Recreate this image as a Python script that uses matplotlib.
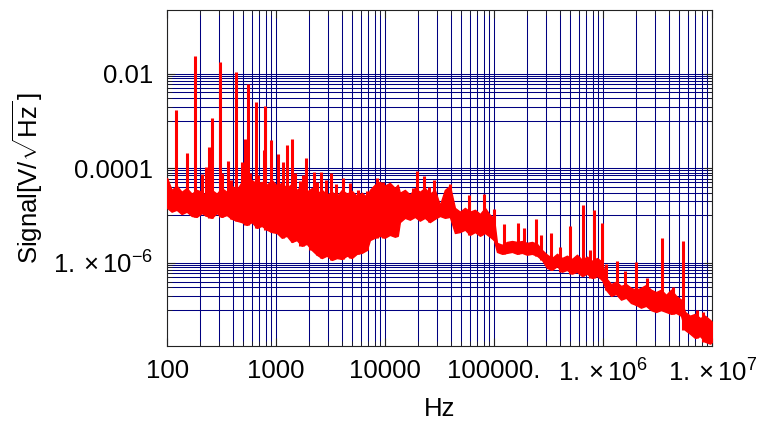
import numpy as np
import matplotlib.pyplot as plt
from matplotlib.ticker import FixedLocator, NullFormatter

plt.rcParams['font.family'] = ['Liberation Sans', 'DejaVu Sans']
plt.rcParams['mathtext.fontset'] = 'custom'
plt.rcParams['mathtext.rm'] = 'Liberation Sans'
plt.rcParams['mathtext.it'] = 'Liberation Sans:italic'

# noise floor: log10(f / Hz) with upper and lower edge, log10(V/sqrt(Hz))
band_lf = [2.000, 2.041, 2.087, 2.133, 2.179, 2.225, 2.271, 2.317, 2.363, 2.409,
           2.455, 2.500, 2.546, 2.592, 2.638, 2.684, 2.730, 2.776, 2.822, 2.868,
           2.914, 2.960, 3.006, 3.051, 3.097, 3.143, 3.189, 3.235, 3.281, 3.327,
           3.373, 3.419, 3.465, 3.511, 3.557, 3.603, 3.649, 3.694, 3.740, 3.786,
           3.832, 3.860, 3.905, 3.951, 3.997, 4.043, 4.089, 4.116, 4.135, 4.181,
           4.227, 4.273, 4.318, 4.364, 4.410, 4.456, 4.502, 4.548, 4.594, 4.640,
           4.686, 4.732, 4.778, 4.824, 4.870, 4.916, 4.961, 4.998, 5.026, 5.072,
           5.118, 5.164, 5.210, 5.256, 5.301, 5.347, 5.393, 5.439, 5.485, 5.531,
           5.577, 5.623, 5.668, 5.714, 5.760, 5.806, 5.852, 5.898, 5.944, 5.990,
           6.026, 6.072, 6.118, 6.164, 6.210, 6.255, 6.301, 6.347, 6.393, 6.439,
           6.485, 6.531, 6.577, 6.623, 6.669, 6.715, 6.751, 6.797, 6.843, 6.889,
           6.935, 6.981, 7.000]
band_hi = [-4.21, -4.46, -4.37, -4.50, -4.42, -4.54, -4.46, -4.50, -4.59, -4.46,
           -4.54, -4.42, -4.50, -4.37, -4.46, -4.29, -4.37, -4.25, -4.33, -4.29,
           -4.35, -4.25, -4.37, -4.31, -4.42, -4.33, -4.46, -4.37, -4.50, -4.42,
           -4.54, -4.46, -4.56, -4.50, -4.59, -4.46, -4.54, -4.48, -4.59, -4.52,
           -4.61, -4.46, -4.35, -4.29, -4.37, -4.31, -4.42, -4.35, -4.52, -4.46,
           -4.56, -4.42, -4.50, -4.42, -4.54, -4.46, -4.78, -4.46, -4.37, -4.84,
           -4.92, -4.84, -4.92, -4.88, -4.97, -4.84, -4.99, -5.05, -5.58, -5.62,
           -5.56, -5.54, -5.56, -5.54, -5.58, -5.56, -5.60, -5.73, -5.83, -5.90,
           -5.81, -5.90, -5.85, -5.92, -5.83, -5.94, -5.87, -5.96, -5.90, -5.98,
           -6.32, -6.45, -6.40, -6.49, -6.45, -6.53, -6.57, -6.53, -6.47, -6.57,
           -6.62, -6.57, -6.68, -6.57, -6.70, -6.78, -7.04, -7.12, -7.08, -7.17,
           -7.12, -7.21, -7.25]
band_lo = [-4.84, -4.92, -4.88, -4.97, -4.92, -5.01, -5.03, -4.95, -5.01, -5.05,
           -4.95, -5.03, -4.99, -5.07, -5.11, -5.14, -5.20, -5.14, -5.26, -5.22,
           -5.30, -5.35, -5.37, -5.47, -5.43, -5.56, -5.52, -5.64, -5.60, -5.73,
           -5.83, -5.90, -5.85, -5.94, -5.90, -5.92, -5.85, -5.90, -5.81, -5.79,
           -5.73, -5.52, -5.47, -5.43, -5.47, -5.41, -5.45, -5.43, -5.14, -5.05,
           -5.09, -5.03, -5.11, -5.05, -5.14, -5.07, -5.01, -5.05, -5.03, -5.37,
           -5.35, -5.30, -5.41, -5.35, -5.43, -5.37, -5.45, -5.52, -5.77, -5.81,
           -5.79, -5.77, -5.81, -5.79, -5.83, -5.81, -5.85, -5.94, -6.11, -6.15,
           -6.07, -6.19, -6.15, -6.23, -6.19, -6.28, -6.23, -6.32, -6.28, -6.36,
           -6.57, -6.70, -6.66, -6.78, -6.74, -6.85, -6.89, -6.95, -6.91, -7.00,
           -7.04, -7.00, -7.04, -7.08, -7.06, -7.12, -7.42, -7.50, -7.59, -7.55,
           -7.67, -7.71, -7.67]

# narrow lines standing out of the floor
peak_lf = [2.083, 2.182, 2.259, 2.323, 2.360, 2.386, 2.411, 2.485, 2.500, 2.558,
           2.583, 2.632, 2.684, 2.714, 2.739, 2.758, 2.819, 2.837, 2.886, 2.898,
           2.957, 3.015, 3.062, 3.102, 3.146, 3.171, 3.217, 3.247, 3.272, 3.309,
           3.348, 3.379, 3.416, 3.462, 3.506, 3.547, 3.614, 3.676, 3.752, 3.829,
           3.924, 3.982, 4.059, 4.254, 4.294, 4.360, 4.404, 4.447, 4.594, 4.767,
           4.908, 4.996, 5.093, 5.217, 5.274, 5.382, 5.434, 5.522, 5.604, 5.696,
           5.814, 5.880, 5.918, 5.988, 6.027, 6.126, 6.201, 6.300, 6.403, 6.541,
           6.642, 6.734, 6.862, 6.917]
peak_ls = [-2.78, -3.67, -1.63, -4.12, -3.97, -3.56, -2.94, -1.75, -4.10, -3.84,
           -4.25, -1.96, -3.86, -3.39, -2.22, -4.10, -2.60, -4.14, -3.61, -2.68,
           -3.40, -3.71, -3.88, -3.51, -3.38, -4.10, -4.28, -4.14, -3.79, -4.47,
           -4.08, -4.30, -4.09, -4.26, -4.11, -4.33, -4.21, -4.32, -4.46, -4.49,
           -4.20, -4.30, -4.42, -4.42, -4.07, -4.17, -4.39, -4.25, -4.33, -4.56,
           -4.55, -4.87, -5.18, -5.16, -5.27, -5.07, -5.41, -5.37, -5.66, -5.22,
           -4.78, -5.73, -4.88, -5.16, -6.02, -5.97, -6.17, -5.99, -6.32, -5.48,
           -6.51, -5.55, -7.00, -7.04]

x_ticks = [1e2, 1e3, 1e4, 1e5, 1e6, 1e7]
x_labels = ["100", "1000", "10000", "100000.",
            r"$\mathregular{1.\times10^{6}}$", r"$\mathregular{1.\times10^{7}}$"]
y_ticks = [1e-2, 1e-4, 1e-6]
y_labels = ["0.01", "0.0001", r"$\mathregular{1.\times10^{-6}}$"]

f = 10 ** np.array(band_lf)
hi = 10 ** np.array(band_hi)
lo = 10 ** np.array(band_lo)
pf = 10 ** np.array(peak_lf)
pv = 10 ** np.array(peak_ls)
# each spike starts from the floor nearest to it
idx = np.abs(np.array(band_lf)[None, :] - np.array(peak_lf)[:, None]).argmin(axis=1)
base = lo[idx]

fig = plt.figure(figsize=(7.58, 4.21), dpi=100)
ax = fig.add_axes([0.2205, 0.177, 0.719, 0.799])
ax.set_xscale('log')
ax.set_yscale('log')

red = '#ff0000'
ax.fill_between(f, lo, hi, color=red, lw=1.0, edgecolor=red, zorder=3)
ax.vlines(pf, base, pv, color=red, lw=2.2, zorder=3)

ax.set_xlim(1e2, 1e7)
ax.set_ylim(10 ** -7.77, 10 ** -0.658)

# grid: every 1..9 x 10^n on x, tenths of each labelled decade on y
x_minor = [k * 10.0 ** n for n in range(2, 7) for k in range(2, 10)]
y_minor = [k * m / 10 for m in y_ticks for k in range(1, 10)]
ax.xaxis.set_major_locator(FixedLocator(x_ticks))
ax.xaxis.set_minor_locator(FixedLocator(x_minor))
ax.yaxis.set_major_locator(FixedLocator(y_ticks))
ax.yaxis.set_minor_locator(FixedLocator(y_minor))
ax.set_xticklabels(x_labels)
ax.set_yticklabels(y_labels)
ax.xaxis.set_minor_formatter(NullFormatter())
ax.yaxis.set_minor_formatter(NullFormatter())

ax.grid(True, which='both', color='#000080', lw=0.75)
ax.set_axisbelow(True)
ax.tick_params(which='both', direction='in', top=True, right=True,
               labelsize=18.5, colors='#222222', labelcolor='black')
ax.tick_params(axis='x', which='both', pad=9)
ax.tick_params(axis='y', which='both', pad=10)
ax.tick_params(which='major', length=6, width=0.8)
ax.tick_params(which='minor', length=3.5, width=0.6)
for s in ax.spines.values():
    s.set_color('#222222')
    s.set_linewidth(0.8)

ax.set_xlabel('Hz', fontsize=18.5, labelpad=8)
ax.set_ylabel(r'Signal$\mathregular{[V/\sqrt{Hz}\,]}$', fontsize=18.5, labelpad=6)

fig.savefig('out.png', dpi=100)
